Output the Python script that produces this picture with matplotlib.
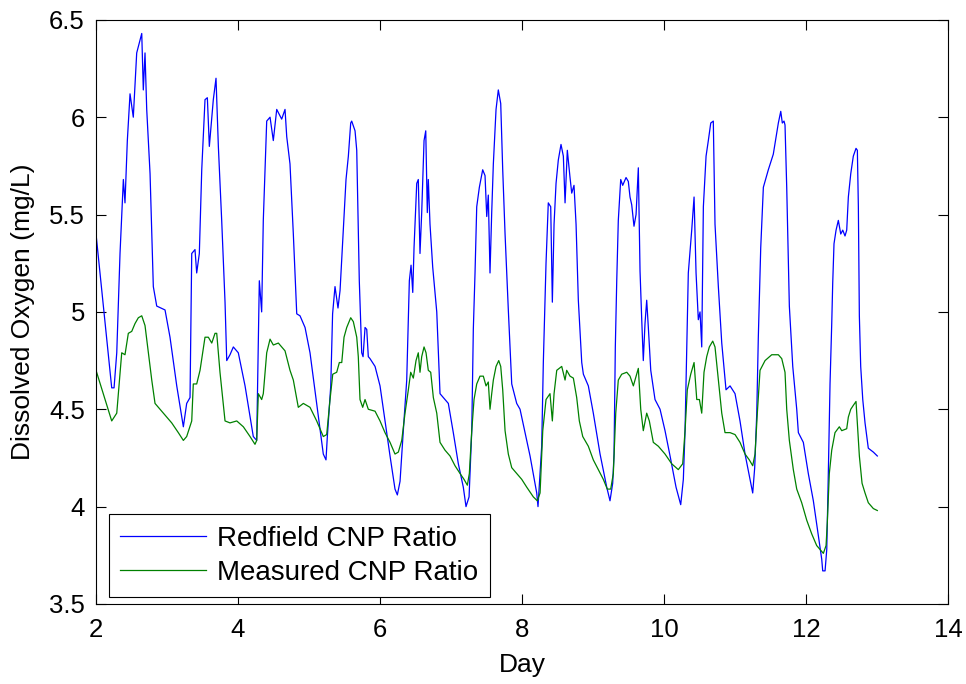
import matplotlib
matplotlib.use("Agg")
import matplotlib.pyplot as plt
from matplotlib.ticker import FormatStrFormatter, MultipleLocator

plt.rcParams["font.family"] = ["Liberation Sans", "DejaVu Sans"]

# Redfield CNP ratio run (day, mg/L)
redfield_day = [
    2.000, 2.221, 2.254, 2.292, 2.338, 2.385, 2.408, 2.441, 2.479, 2.525, 2.573, 2.644, 2.666, 2.690,
    2.714, 2.761, 2.807, 2.855, 2.972, 3.042, 3.137, 3.230, 3.277, 3.324, 3.348, 3.394, 3.418, 3.455,
    3.489, 3.535, 3.568, 3.596, 3.652, 3.690, 3.723, 3.770, 3.817, 3.841, 3.887, 3.934, 4.004, 4.099,
    4.215, 4.263, 4.300, 4.333, 4.356, 4.404, 4.451, 4.497, 4.545, 4.615, 4.662, 4.686, 4.732, 4.779,
    4.827, 4.873, 4.944, 5.014, 5.108, 5.201, 5.239, 5.258, 5.306, 5.332, 5.366, 5.408, 5.437, 5.483,
    5.521, 5.554, 5.587, 5.601, 5.648, 5.672, 5.708, 5.742, 5.761, 5.789, 5.813, 5.835, 5.859, 5.930,
    6.000, 6.070, 6.141, 6.211, 6.244, 6.282, 6.328, 6.376, 6.413, 6.437, 6.461, 6.479, 6.517, 6.539,
    6.563, 6.587, 6.620, 6.644, 6.666, 6.680, 6.704, 6.742, 6.799, 6.845, 6.915, 6.962, 7.032, 7.103,
    7.173, 7.211, 7.254, 7.292, 7.314, 7.338, 7.362, 7.399, 7.446, 7.479, 7.503, 7.525, 7.549, 7.573,
    7.596, 7.634, 7.666, 7.700, 7.728, 7.761, 7.807, 7.855, 7.925, 7.972, 8.042, 8.113, 8.207, 8.225,
    8.277, 8.300, 8.338, 8.370, 8.404, 8.427, 8.451, 8.479, 8.511, 8.549, 8.582, 8.606, 8.638, 8.676,
    8.700, 8.732, 8.761, 8.793, 8.841, 8.864, 8.934, 9.004, 9.099, 9.193, 9.239, 9.277, 9.296, 9.314,
    9.334, 9.356, 9.390, 9.418, 9.465, 9.497, 9.521, 9.545, 9.577, 9.606, 9.638, 9.662, 9.686, 9.708,
    9.732, 9.756, 9.779, 9.813, 9.873, 9.944, 10.014, 10.085, 10.169, 10.235, 10.272, 10.296, 10.320,
    10.342, 10.390, 10.423, 10.451, 10.483, 10.507, 10.531, 10.554, 10.592, 10.624, 10.658, 10.694,
    10.718, 10.765, 10.813, 10.873, 10.930, 11.000, 11.070, 11.141, 11.211, 11.249, 11.277, 11.306,
    11.328, 11.362, 11.399, 11.469, 11.539, 11.610, 11.644, 11.666, 11.690, 11.704, 11.728, 11.765,
    11.813, 11.869, 11.892, 11.962, 12.032, 12.103, 12.173, 12.221, 12.235, 12.268, 12.292, 12.314,
    12.338, 12.362, 12.376, 12.394, 12.423, 12.455, 12.489, 12.517, 12.549, 12.573, 12.596, 12.630,
    12.666, 12.704, 12.723, 12.737, 12.751, 12.770, 12.799, 12.831, 12.877, 12.948, 13.004,
]
redfield_do = [
    5.40, 4.61, 4.61, 4.79, 5.30, 5.68, 5.56, 5.88, 6.12, 6.00, 6.33, 6.43, 6.14, 6.33,
    6.04, 5.71, 5.13, 5.03, 5.01, 4.87, 4.62, 4.41, 4.53, 4.56, 5.30, 5.32, 5.20, 5.30,
    5.73, 6.09, 6.10, 5.85, 6.09, 6.20, 5.85, 5.47, 5.05, 4.75, 4.78, 4.82, 4.79, 4.62,
    4.36, 4.34, 5.16, 5.00, 5.47, 5.98, 6.00, 5.88, 6.04, 5.99, 6.04, 5.90, 5.76, 5.40,
    4.99, 4.98, 4.92, 4.79, 4.53, 4.27, 4.24, 4.36, 4.62, 4.99, 5.13, 5.02, 5.11, 5.42,
    5.68, 5.80, 5.97, 5.98, 5.93, 5.83, 5.16, 4.79, 4.77, 4.92, 4.91, 4.77, 4.76, 4.72,
    4.62, 4.44, 4.26, 4.09, 4.06, 4.13, 4.39, 4.65, 5.16, 5.24, 5.10, 5.33, 5.66, 5.68,
    5.30, 5.51, 5.88, 5.93, 5.51, 5.68, 5.45, 5.23, 5.00, 4.58, 4.55, 4.53, 4.38, 4.22,
    4.10, 4.00, 4.05, 4.39, 4.91, 5.20, 5.54, 5.64, 5.73, 5.70, 5.49, 5.60, 5.20, 5.51,
    5.76, 6.04, 6.14, 6.07, 5.73, 5.40, 5.01, 4.63, 4.53, 4.50, 4.38, 4.26, 4.07, 4.00,
    4.31, 4.74, 5.25, 5.56, 5.54, 5.05, 5.45, 5.66, 5.78, 5.86, 5.80, 5.56, 5.83, 5.69,
    5.61, 5.65, 5.45, 5.06, 4.74, 4.68, 4.62, 4.48, 4.27, 4.10, 4.03, 4.12, 4.27, 4.82,
    5.16, 5.47, 5.68, 5.65, 5.69, 5.67, 5.59, 5.55, 5.44, 5.50, 5.74, 5.21, 4.96, 4.75,
    4.94, 5.06, 4.92, 4.70, 4.55, 4.50, 4.39, 4.26, 4.10, 4.01, 4.14, 4.39, 4.82,
    5.20, 5.42, 5.59, 5.20, 4.96, 5.00, 4.82, 5.54, 5.80, 5.88, 5.97, 5.98,
    5.45, 5.13, 4.84, 4.60, 4.62, 4.58, 4.44, 4.27, 4.14, 4.07, 4.20, 4.48,
    4.87, 5.33, 5.64, 5.73, 5.81, 5.97, 6.03, 5.97, 5.98, 5.96, 5.64, 5.03,
    4.72, 4.50, 4.38, 4.33, 4.17, 4.03, 3.85, 3.73, 3.67, 3.67, 3.78, 4.17,
    4.63, 4.94, 5.15, 5.35, 5.42, 5.47, 5.40, 5.42, 5.39, 5.42, 5.59, 5.71,
    5.80, 5.84, 5.83, 5.54, 4.98, 4.72, 4.55, 4.43, 4.30, 4.28, 4.26,
]

# Measured CNP ratio run (day, mg/L)
measured_day = [
    2.000, 2.221, 2.292, 2.362, 2.408, 2.455, 2.503, 2.549, 2.596, 2.644, 2.690, 2.737, 2.785, 2.831,
    2.948, 3.066, 3.159, 3.230, 3.277, 3.348, 3.370, 3.418, 3.465, 3.535, 3.582, 3.630, 3.676, 3.700,
    3.746, 3.817, 3.887, 3.982, 4.075, 4.169, 4.239, 4.263, 4.286, 4.333, 4.356, 4.404, 4.451, 4.497,
    4.568, 4.615, 4.662, 4.732, 4.779, 4.849, 4.920, 5.014, 5.108, 5.201, 5.249, 5.296, 5.334, 5.390,
    5.427, 5.461, 5.493, 5.531, 5.587, 5.624, 5.672, 5.694, 5.718, 5.756, 5.789, 5.835, 5.930, 6.000,
    6.070, 6.141, 6.211, 6.258, 6.306, 6.352, 6.399, 6.432, 6.469, 6.507, 6.539, 6.563, 6.587, 6.620,
    6.648, 6.680, 6.714, 6.751, 6.799, 6.845, 6.915, 6.986, 7.056, 7.127, 7.183, 7.230, 7.258, 7.292,
    7.324, 7.362, 7.408, 7.455, 7.493, 7.525, 7.549, 7.573, 7.596, 7.634, 7.672, 7.700, 7.728, 7.761,
    7.807, 7.855, 7.925, 7.996, 8.066, 8.159, 8.215, 8.254, 8.292, 8.338, 8.394, 8.427, 8.451, 8.489,
    8.559, 8.606, 8.629, 8.676, 8.723, 8.770, 8.807, 8.855, 8.934, 9.004, 9.075, 9.145, 9.201, 9.249,
    9.286, 9.320, 9.356, 9.404, 9.475, 9.521, 9.568, 9.606, 9.638, 9.672, 9.708, 9.756, 9.793, 9.849,
    9.920, 10.014, 10.108, 10.201, 10.263, 10.296, 10.328, 10.376, 10.423, 10.461, 10.498, 10.531,
    10.563, 10.601, 10.638, 10.686, 10.718, 10.765, 10.813, 10.859, 10.930, 11.000, 11.070, 11.141,
    11.201, 11.249, 11.282, 11.314, 11.352, 11.423, 11.517, 11.610, 11.658, 11.704, 11.728, 11.765,
    11.821, 11.869, 11.939, 12.010, 12.080, 12.150, 12.221, 12.244, 12.282, 12.300, 12.328, 12.362,
    12.408, 12.469, 12.503, 12.573, 12.596, 12.630, 12.666, 12.704, 12.723, 12.751, 12.789, 12.831,
    12.877, 12.948, 13.004,
]
measured_do = [
    4.70, 4.44, 4.48, 4.79, 4.78, 4.89, 4.90, 4.94, 4.97, 4.98, 4.93, 4.79, 4.65, 4.53,
    4.48, 4.43, 4.38, 4.34, 4.36, 4.44, 4.63, 4.63, 4.70, 4.87, 4.87, 4.84, 4.89, 4.89,
    4.69, 4.44, 4.43, 4.44, 4.41, 4.36, 4.32, 4.34, 4.58, 4.55, 4.58, 4.79, 4.86, 4.83,
    4.84, 4.82, 4.80, 4.70, 4.65, 4.51, 4.53, 4.51, 4.44, 4.36, 4.37, 4.55, 4.68, 4.69,
    4.74, 4.74, 4.87, 4.92, 4.97, 4.95, 4.87, 4.77, 4.55, 4.51, 4.55, 4.50, 4.49, 4.44,
    4.38, 4.33, 4.27, 4.28, 4.34, 4.48, 4.60, 4.69, 4.66, 4.75, 4.79, 4.69, 4.77, 4.82,
    4.79, 4.70, 4.69, 4.56, 4.48, 4.33, 4.29, 4.26, 4.21, 4.17, 4.14, 4.11, 4.17, 4.39,
    4.55, 4.63, 4.67, 4.67, 4.62, 4.64, 4.50, 4.58, 4.65, 4.72, 4.75, 4.72, 4.60, 4.39,
    4.27, 4.20, 4.17, 4.14, 4.10, 4.05, 4.03, 4.07, 4.39, 4.55, 4.58, 4.44, 4.58, 4.70,
    4.72, 4.65, 4.70, 4.67, 4.66, 4.56, 4.44, 4.36, 4.31, 4.24, 4.19, 4.14, 4.09, 4.09,
    4.17, 4.48, 4.65, 4.68, 4.69, 4.67, 4.62, 4.67, 4.71, 4.50, 4.39, 4.48, 4.44, 4.33,
    4.31, 4.27, 4.22, 4.19, 4.22, 4.39, 4.60, 4.68, 4.74, 4.55, 4.55, 4.48,
    4.69, 4.77, 4.82, 4.85, 4.82, 4.65, 4.48, 4.38, 4.38, 4.37, 4.33, 4.27,
    4.24, 4.21, 4.27, 4.48, 4.70, 4.75, 4.78, 4.78, 4.76, 4.69, 4.50, 4.34,
    4.19, 4.09, 4.02, 3.93, 3.86, 3.80, 3.77, 3.76, 3.80, 3.92, 4.17, 4.29,
    4.38, 4.41, 4.39, 4.40, 4.46, 4.50, 4.52, 4.54, 4.43, 4.26, 4.12, 4.07,
    4.02, 3.99, 3.98,
]

fig = plt.figure(figsize=(9.66, 6.84), dpi=100)
ax = fig.add_axes([0.0994, 0.117, 0.882, 0.854])

ax.plot(redfield_day, redfield_do, color="#0000ff", linewidth=0.9, label="Redfield CNP Ratio")
ax.plot(measured_day, measured_do, color="#008000", linewidth=0.9, label="Measured CNP Ratio")

ax.set_xlim(2, 14)
ax.set_ylim(3.5, 6.5)
ax.xaxis.set_major_locator(MultipleLocator(2))
ax.yaxis.set_major_locator(MultipleLocator(0.5))
ax.yaxis.set_major_formatter(FormatStrFormatter("%g"))
ax.tick_params(direction="in", length=7, width=0.8, top=True, right=True, labelsize=18.5)
ax.tick_params(axis="x", pad=10)
ax.tick_params(axis="y", pad=8)
for side in ax.spines.values():
    side.set_linewidth(0.8)

ax.set_xlabel("Day", fontsize=19, labelpad=8)
ax.set_ylabel("Dissolved Oxygen (mg/L)", fontsize=19, labelpad=10)

leg = ax.legend(loc="lower left", bbox_to_anchor=(0.0153, 0.012), borderaxespad=0,
                fontsize=20, fancybox=False, edgecolor="black", framealpha=1,
                handlelength=3.1, handletextpad=0.4, borderpad=0.4, labelspacing=0.3)
leg.get_frame().set_linewidth(0.8)

fig.savefig("out.png", dpi=100)
plt.close(fig)
